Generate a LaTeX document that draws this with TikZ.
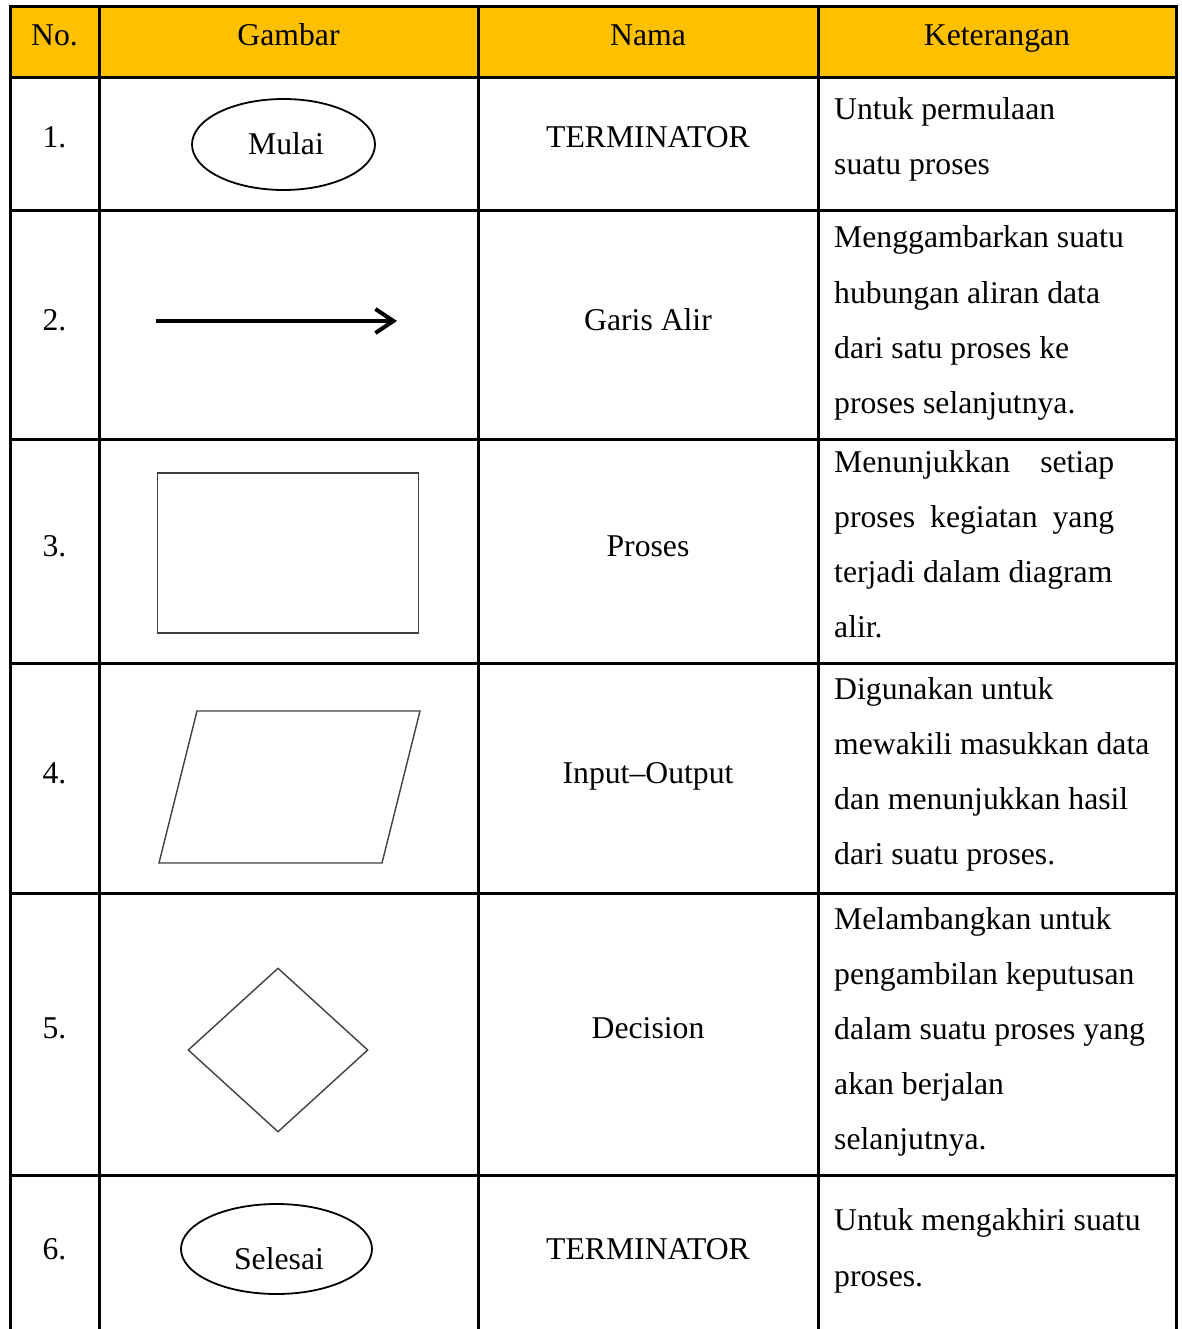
\documentclass[tikz,border=0pt]{standalone}
\usepackage{fontspec}
\setmainfont{Liberation Serif}
\usepackage{tikz}
\usetikzlibrary{shapes,arrows.meta,positioning}
\definecolor{headgold}{HTML}{FFC000}
\definecolor{symgray}{gray}{0.25}
\tikzstyle{txt}=[inner sep=0,font=\fontsize{31.7}{55}\selectfont]
\tikzstyle{grid}=[line width=3pt,line cap=rect,black]
\tikzstyle{term}=[ellipse,draw=black,line width=1.8pt,inner sep=0]
\tikzstyle{symb}=[draw=symgray,line width=1.4pt,inner sep=0]

\begin{document}
\begin{tikzpicture}[x=1pt,y=-1pt]
		\useasboundingbox (0,0) rectangle (1181,1329);

		% header
		\fill[headgold] (10,7) rectangle (1176,78);

		% grid
		\foreach \y in {7,78,211,439,663,893,1175}
			\draw[grid] (10,\y) -- (1176,\y);
		\foreach \x in {10,99,478,818,1176}
			\draw[grid] (\x,7) -- (\x,1329);

		% header texts
		\node[txt,anchor=base] (hno) at (54.5,46) {No.};
		\node[txt,anchor=base] (hgbr) at (288.5,46) {Gambar};
		\node[txt,anchor=base] (hnama) at (648,46) {Nama};
		\node[txt,anchor=base] (hket) at (997,46) {Keterangan};

		% numbers and names
		\foreach \n/\y/\nm in {1/148/TERMINATOR, 2/330/Garis Alir, 3/556/Proses,
				4/783/Input--Output, 5/1038/Decision, 6/1259/TERMINATOR} {
			\node[txt,anchor=base] (no\n) at (54.5,\y) {\n.};
			\node[txt,anchor=base] (nama\n) at (648,\y) {\nm};
		}

		% terminator
		\node[term,minimum width=183pt,minimum height=91pt] (mulai) at (283.5,144.5) {};
		\node[txt,anchor=base] (mulai-t) at (286,155) {Mulai};
		\node[term,minimum width=191pt,minimum height=90pt] (selesai) at (276.5,1249) {};
		\node[txt,anchor=base] (selesai-t) at (279,1269) {Selesai};

		% garis alir
		\coordinate (alir-a) at (156,321);
		\coordinate (alir-b) at (397,321);
		\draw[line width=4pt,-{Straight Barb[length=18pt,width=24pt]}] (alir-a) -- (alir-b);

		% proses
		\node[symb,rectangle,minimum width=261pt,minimum height=160pt] (proses) at (288.2,553) {};

		% input-output
		\draw[symb] (197,711) -- (420,711) -- (382,863) -- (159,863) -- cycle;

		% decision
		\node[symb,diamond,minimum width=180pt,minimum height=164pt] (decision) at (278,1050) {};

		% keterangan
		\foreach \t [count=\i] in {Untuk permulaan, suatu proses}
			\node[txt,anchor=base west] (ket1-\i) at (834,{120+55*(\i-1)}) {\t};
		\foreach \t [count=\i] in {Menggambarkan suatu, hubungan aliran data,
				dari satu proses ke, proses selanjutnya.}
			\node[txt,anchor=base west] (ket2-\i) at (834,{248+55*(\i-1)}) {\t};
		\foreach \t [count=\i] in {{\makebox[280pt][s]{Menunjukkan setiap}},
				{\makebox[280pt][s]{proses kegiatan yang}}, terjadi dalam diagram, alir.}
			\node[txt,anchor=base west] (ket3-\i) at (834,{472+55*(\i-1)}) {\t};
		\foreach \t [count=\i] in {Digunakan untuk, mewakili masukkan data,
				dan menunjukkan hasil, dari suatu proses.}
			\node[txt,anchor=base west] (ket4-\i) at (834,{699+55*(\i-1)}) {\t};
		\foreach \t [count=\i] in {Melambangkan untuk, pengambilan keputusan,
				dalam suatu proses yang, akan berjalan, selanjutnya.}
			\node[txt,anchor=base west] (ket5-\i) at (834,{929+55*(\i-1)}) {\t};
		\foreach \t [count=\i] in {Untuk mengakhiri suatu, proses.}
			\node[txt,anchor=base west] (ket6-\i) at (834,{1230+56*(\i-1)}) {\t};
	\end{tikzpicture}
\end{document}
